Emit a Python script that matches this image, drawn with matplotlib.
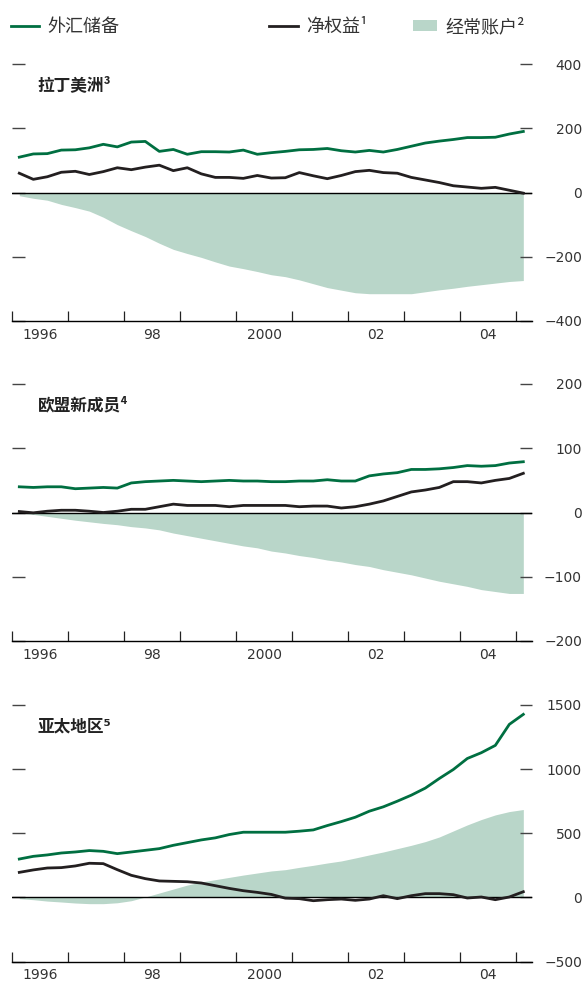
import numpy as np
import pandas as pd
import matplotlib
matplotlib.use('Agg')
import matplotlib.pyplot as plt

plt.rcParams['font.family'] = ['Noto Sans CJK SC', 'DejaVu Sans']

# quarterly data, 1996Q1 - 2005Q1 (US$ bn)
quarters = pd.period_range('1996Q1', '2005Q1', freq='Q')

latam_reserves = [110, 120, 121, 132, 133, 139, 150, 142, 157, 159, 128, 134,
                  119, 127, 127, 126, 132, 119, 124, 128, 133, 134, 137, 130,
                  126, 131, 126, 134, 144, 154, 160, 165, 171, 171, 172, 182, 190]
latam_equity = [60, 41, 49, 63, 66, 56, 65, 77, 71, 79, 85, 68, 77, 58, 47, 47,
                44, 53, 45, 46, 62, 52, 43, 53, 65, 69, 62, 60, 47, 39, 31, 21,
                17, 13, 16, 7, -2]
latam_current = [-10, -18, -24, -37, -47, -58, -77, -100, -119, -137, -158, -177,
                 -190, -202, -216, -229, -237, -246, -256, -262, -272, -284, -296,
                 -304, -312, -315, -315, -315, -315, -309, -303, -298, -292, -287,
                 -282, -277, -274]

eu_reserves = [40, 39, 40, 40, 37, 38, 39, 38, 46, 48, 49, 50, 49, 48, 49, 50,
               49, 49, 48, 48, 49, 49, 51, 49, 49, 57, 60, 62, 67, 67, 68, 70,
               73, 72, 73, 77, 79]
eu_equity = [1.5, -0.5, 2, 3.5, 3.5, 2, 0, 2, 5, 5, 9, 13, 11, 11, 11, 9, 11, 11,
             11, 11, 9, 10, 10, 7, 9, 13, 18, 25, 32, 35, 39, 48, 48, 46, 50, 53, 61]
eu_current = [-1, -3, -6, -9, -12, -14.5, -17, -19, -22, -24, -27, -32, -36, -40,
              -44, -48, -52, -55, -60, -63, -67, -70, -74, -77, -81, -84, -89,
              -93, -97, -102, -107, -111, -115, -120, -123, -126, -126]

asia_reserves = [299, 320, 331, 346, 354, 365, 359, 341, 354, 367, 380, 406, 427,
                 448, 464, 490, 508, 508, 508, 508, 516, 526, 560, 591, 625, 672,
                 706, 750, 797, 852, 927, 997, 1083, 1128, 1185, 1349, 1427]
asia_equity = [195, 214, 229, 232, 245, 266, 263, 216, 172, 146, 128, 125, 122,
               112, 91, 70, 52, 39, 23, -6, -10, -26, -18, -13, -23, -13, 13, -10,
               13, 29, 29, 21, -5, 3, -18, 3, 44]
asia_current = [-10, -18, -29, -36, -44, -49, -49, -42, -26, 3, 34, 65, 96, 120,
                138, 156, 174, 190, 206, 216, 234, 250, 268, 284, 307, 331, 354,
                380, 406, 435, 471, 518, 565, 607, 643, 669, 685]

titles = ['拉丁美洲³', '欧盟新成员⁴', '亚太地区⁵']
yticks = [[400, 200, 0, -200, -400],
          [200, 100, 0, -100, -200],
          [1500, 1000, 500, 0, -500]]
year_ticks = list(range(1996, 2006))
year_labels = ['1996', '', '98', '', '2000', '', '02', '', '04']

GREEN = '#006f41'
BLACK = '#231f20'
FILL = '#b9d6c9'
TXT = '#333333'

# position of each quarter on a decimal-year axis (middle of the quarter)
x = np.asarray(quarters.year + (quarters.quarter - 1) * 0.25 + 0.125, dtype=float)

fig = plt.figure(figsize=(5.85, 9.83), dpi=100)

panels = [(latam_reserves, latam_equity, latam_current),
          (eu_reserves, eu_equity, eu_current),
          (asia_reserves, asia_equity, asia_current)]
# axes rectangles in figure fractions (left, bottom, width, height)
rects = [(12.3 / 585, 1 - 321 / 983, 519.7 / 585, 257 / 983),
         (12.3 / 585, 1 - 641 / 983, 519.7 / 585, 257 / 983),
         (12.3 / 585, 1 - 961.5 / 983, 519.7 / 585, 256.5 / 983)]

handles = None
for (res, eq, ca), rect, title, yt in zip(panels, rects, titles, yticks):
    ax = fig.add_axes(rect)
    fill = ax.fill_between(x, 0, ca, color=FILL, lw=0, zorder=1)
    ax.axhline(0, color='black', lw=1.0, zorder=2)
    l_res, = ax.plot(x, res, color=GREEN, lw=2.0, zorder=3)
    l_eq, = ax.plot(x, eq, color=BLACK, lw=2.0, zorder=3)
    handles = (l_res, l_eq, fill)

    ax.set_xlim(1996, 2005.28)
    ax.set_ylim(yt[-1], yt[0])
    for s in ['top', 'left', 'right']:
        ax.spines[s].set_visible(False)
    ax.spines['bottom'].set_linewidth(1.0)
    ax.spines['bottom'].set_color('black')

    ax.set_xticks(year_ticks)
    ax.set_xticklabels([])
    ax.set_xticks([y + 0.5 for y in year_ticks[:-1]], minor=True)
    ax.set_xticklabels(year_labels, minor=True)
    ax.tick_params(axis='x', which='major', direction='in', length=7,
                   width=0.9, color='#222222')
    ax.tick_params(axis='x', which='minor', length=0, pad=5,
                   labelsize=10, labelcolor=TXT)

    ax.set_yticks(yt)
    ax.set_yticklabels([str(v).replace('-', '\u2212') for v in yt])
    ax.tick_params(axis='y', direction='in', length=9, width=1.0, color='#444444',
                   left=True, right=True, labelleft=False, labelright=True,
                   pad=36, labelsize=10, labelcolor=TXT)
    for lab in ax.get_yticklabels():
        lab.set_horizontalalignment('right')
        lab.set_family('DejaVu Sans')
    for lab in ax.get_xticklabels(minor=True):
        lab.set_family('DejaVu Sans')

    ax.text(0.049, 0.918, title, transform=ax.transAxes, ha='left', va='center',
            fontsize=12, fontweight='bold', color='#222222')

# legend across the top, one entry at a time so the spacing matches
names = ['外汇储备', '净权益¹', '经常账户²']
lefts = [10.5 / 585, 269 / 585, 413 / 585]
for h, name, left in zip(handles, names, lefts):
    is_patch = h is handles[2]
    fig.legend([h], [name], loc='center left', bbox_to_anchor=(left, 1 - 27 / 983),
               frameon=False, borderpad=0, borderaxespad=0,
               handlelength=1.35 if is_patch else 1.6,
               handleheight=0.6 if is_patch else 0.7,
               handletextpad=0.45, fontsize=13, labelcolor=TXT)

fig.savefig('out.png', dpi=100)
